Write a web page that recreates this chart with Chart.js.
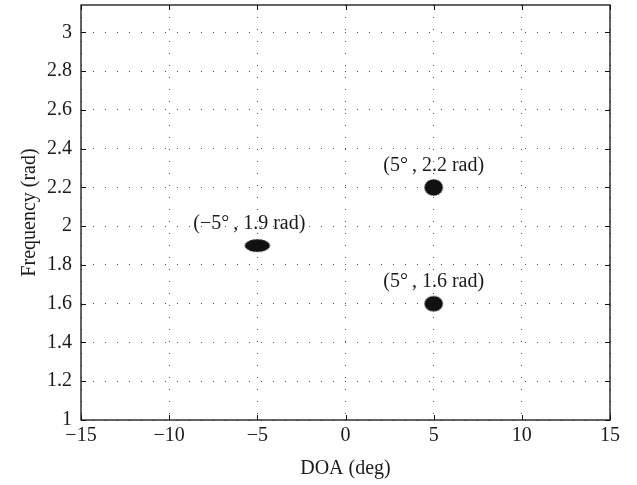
<!DOCTYPE html>
<html>
<head>
<meta charset="utf-8">
<script src="https://cdn.jsdelivr.net/npm/chart.js@4/dist/chart.umd.min.js"></script>
<style>
  html, body { margin: 0; padding: 0; background: #fff; }
  #wrap { width: 637px; height: 485px; position: relative; }
</style>
</head>
<body>
<div id="wrap"><canvas id="c"></canvas></div>
<script>
// ---- data ----
const doaDeg = [-5, 5, 5];
const freqRad = [1.9, 2.2, 1.6];
const pointLabels = ["(\u22125\u00B0\u2009, 1.9 rad)", "(5\u00B0\u2009, 2.2 rad)", "(5\u00B0\u2009, 1.6 rad)"];
const xTicks = [-15, -10, -5, 0, 5, 10, 15];
const yTicks = [1, 1.2, 1.4, 1.6, 1.8, 2, 2.2, 2.4, 2.6, 2.8, 3];
const xTitle = "DOA (deg)";
const yTitle = "Frequency (rad)";

// ---- styles ----
const FONT = "'Liberation Serif', 'Times New Roman', serif";
const blobSizes = [[26, 13], [19, 17], [19, 16]];
const labelOffsets = [[-8, -22], [0, -22], [0, -22]];

function makeBlob(w, h) {
  const c = document.createElement('canvas');
  c.width = w + 2; c.height = h + 2;
  const g = c.getContext('2d');
  g.fillStyle = '#111';
  g.beginPath();
  const cx = c.width / 2, cy = c.height / 2;
  const n = 40;
  for (let i = 0; i <= n; i++) {
    const a = i / n * Math.PI * 2;
    const k = (i % 2 === 0) ? 1.0 : 0.93;
    const x = cx + Math.cos(a) * (w / 2) * k;
    const y = cy + Math.sin(a) * (h / 2) * k;
    if (i === 0) g.moveTo(x, y); else g.lineTo(x, y);
  }
  g.closePath();
  g.fill();
  return c;
}
const blobStyles = blobSizes.map(s => makeBlob(s[0], s[1]));

const fmt = v => String(+v.toFixed(2)).replace('-', '\u2212');

const framePlugin = {
  id: 'frame',
  afterDatasetsDraw(chart) {
    const {ctx, chartArea: a, scales: {x, y}} = chart;
    ctx.save();
    // annotations
    ctx.fillStyle = '#1a1a1a';
    ctx.font = '20px ' + FONT;
    ctx.textAlign = 'center';
    ctx.textBaseline = 'middle';
    doaDeg.forEach((d, i) => {
      const px = x.getPixelForValue(d) + labelOffsets[i][0];
      const py = y.getPixelForValue(freqRad[i]) + labelOffsets[i][1];
      ctx.fillText(pointLabels[i], px, py);
    });
    // box
    ctx.strokeStyle = '#111';
    ctx.lineWidth = 1.3;
    ctx.strokeRect(a.left, a.top, a.right - a.left, a.bottom - a.top);
    // inward ticks on all sides
    const tl = 5;
    ctx.lineWidth = 1;
    ctx.beginPath();
    xTicks.forEach(v => {
      const p = Math.round(x.getPixelForValue(v)) + 0.5;
      ctx.moveTo(p, a.bottom); ctx.lineTo(p, a.bottom - tl);
      ctx.moveTo(p, a.top); ctx.lineTo(p, a.top + tl);
    });
    yTicks.forEach(v => {
      const p = Math.round(y.getPixelForValue(v)) + 0.5;
      ctx.moveTo(a.left, p); ctx.lineTo(a.left + tl, p);
      ctx.moveTo(a.right, p); ctx.lineTo(a.right - tl, p);
    });
    ctx.stroke();
    ctx.restore();
  }
};

new Chart(document.getElementById('c'), {
  type: 'scatter',
  data: {
    datasets: [{
      data: doaDeg.map((d, i) => ({x: d, y: freqRad[i]})),
      pointStyle: blobStyles,
      backgroundColor: '#111',
      borderColor: '#111'
    }]
  },
  options: {
    responsive: true,
    maintainAspectRatio: false,
    animation: false,
    events: [],
    layout: { padding: { top: 3, right: 27, left: 0, bottom: 0 } },
    plugins: { legend: { display: false }, tooltip: { enabled: false } },
    scales: {
      x: {
        type: 'linear',
        min: -15, max: 15,
        afterBuildTicks: s => { s.ticks = xTicks.map(v => ({value: v})); },
        afterFit: s => { s.height = 65; s.paddingLeft = 0; s.paddingRight = 0; },
        grid: { color: '#555', lineWidth: 1, drawTicks: false },
        border: { display: false, dash: [1, 11] },
        ticks: { color: '#1a1a1a', font: { family: FONT, size: 20 }, padding: 4, maxRotation: 0, autoSkip: false, callback: v => fmt(v) },
        title: { display: true, text: xTitle, color: '#1a1a1a', font: { family: FONT, size: 20 }, padding: { top: 0, bottom: 4 } }
      },
      y: {
        type: 'linear',
        min: 1, max: Math.PI,
        afterBuildTicks: s => { s.ticks = yTicks.map(v => ({value: v})); },
        afterFit: s => { s.width = 81; s.paddingTop = 0; s.paddingBottom = 0; },
        grid: { color: '#555', lineWidth: 1, drawTicks: false },
        border: { display: false, dash: [1, 11] },
        ticks: { color: '#1a1a1a', font: { family: FONT, size: 20 }, padding: 9, autoSkip: false, callback: v => fmt(v) },
        title: { display: true, text: yTitle, color: '#1a1a1a', font: { family: FONT, size: 20 }, padding: { top: 18, bottom: 0 } }
      }
    }
  },
  plugins: [framePlugin]
});
</script>
</body>
</html>
